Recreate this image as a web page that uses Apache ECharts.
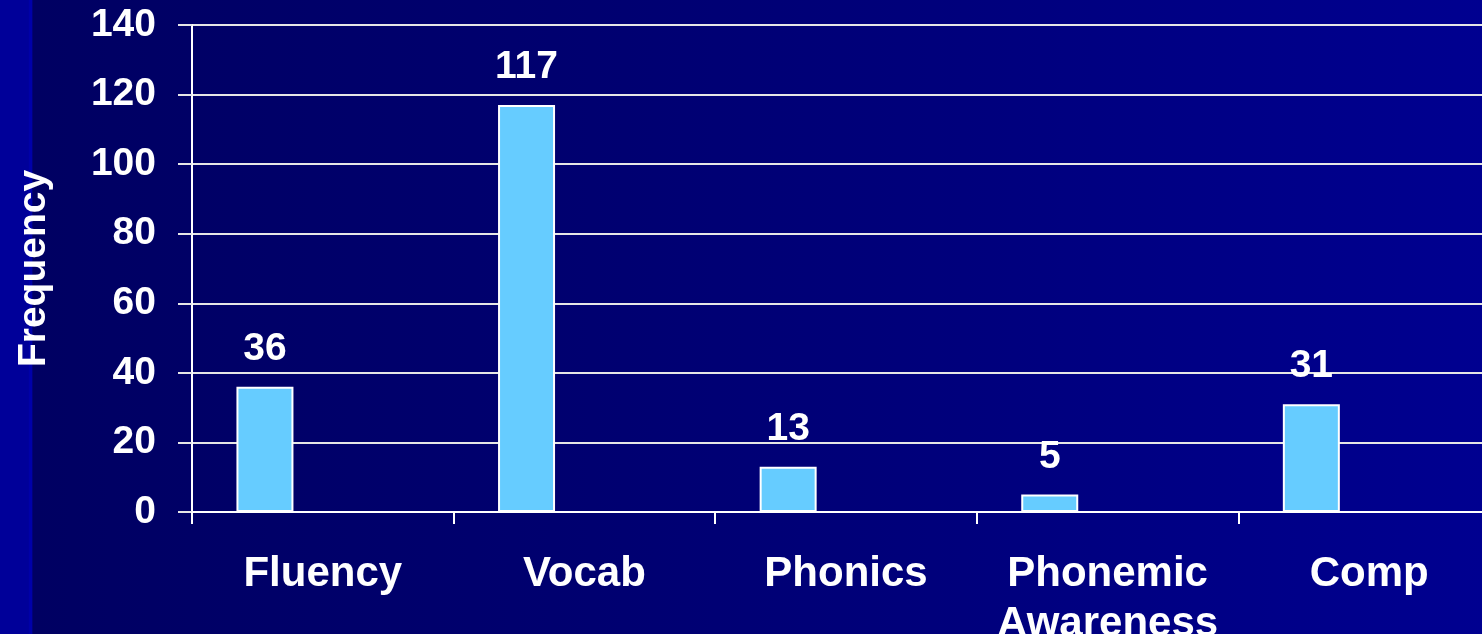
<!DOCTYPE html>
<html>
<head>
<meta charset="utf-8">
<script src="https://cdn.jsdelivr.net/npm/echarts@6/dist/echarts.min.js"></script>
<style>
html,body{margin:0;padding:0;background:#000066;}
#chart{width:1482px;height:634px;}
</style>
</head>
<body>
<div id="chart"></div>
<script>
const categories = ['Fluency', 'Vocab', 'Phonics', 'Phonemic\nAwareness', 'Comp'];
const frequencyValues = [36, 117, 13, 5, 31];
const emptyValues = [null, null, null, null, null];
const yTicks = { min: 0, max: 140, interval: 20 };
const yAxisTitle = 'Frequency';

const FONT = '"Liberation Sans", Arial, sans-serif';
const chart = echarts.init(document.getElementById('chart'), null, { renderer: 'canvas' });

chart.setOption({
  backgroundColor: {
    type: 'linear', x: 0, y: 0, x2: 1, y2: 0,
    colorStops: [
      { offset: 0, color: '#000099' },
      { offset: 0.0192, color: '#000099' },
      { offset: 0.0194, color: '#0000a8' },
      { offset: 0.0218, color: '#0000a8' },
      { offset: 0.0220, color: '#000062' },
      { offset: 0.4, color: '#000070' },
      { offset: 0.65, color: '#00007c' },
      { offset: 1, color: '#000090' }
    ]
  },
  animation: false,
  grid: { left: 192, top: 25, width: 1308, height: 487, containLabel: false, outerBoundsMode: 'none' },
  xAxis: {
    type: 'category',
    data: categories,
    axisLine: { show: true, lineStyle: { color: '#ffffff', width: 2 } },
    axisTick: { show: true, length: 12, alignWithLabel: false, lineStyle: { color: '#ffffff', width: 2 } },
    axisLabel: {
      color: '#ffffff', fontFamily: FONT, fontWeight: 'bold', fontSize: 42,
      lineHeight: 50, margin: 37, interval: 0
    },
    splitLine: { show: false }
  },
  yAxis: {
    type: 'value',
    min: yTicks.min, max: yTicks.max, interval: yTicks.interval,
    name: yAxisTitle,
    nameLocation: 'middle',
    nameRotate: 90,
    nameGap: 138,
    nameTextStyle: { color: '#ffffff', fontFamily: FONT, fontWeight: 'bold', fontSize: 39 },
    axisLine: { show: true, lineStyle: { color: '#ffffff', width: 2 } },
    axisTick: { show: true, length: 14, lineStyle: { color: '#e6e6e6', width: 2 } },
    axisLabel: { color: '#ffffff', fontFamily: FONT, fontWeight: 'bold', fontSize: 39, margin: 36 },
    splitLine: { show: true, lineStyle: { color: '#e6e6e6', width: 2 } }
  },
  series: [
    {
      name: 'Frequency',
      type: 'bar',
      data: frequencyValues,
      barWidth: 57,
      barGap: '103%',
      itemStyle: { color: '#66ccff', borderColor: '#ffffff', borderWidth: 2 },
      label: {
        show: true, position: 'top', distance: 18,
        color: '#ffffff', fontFamily: FONT, fontWeight: 'bold', fontSize: 39
      }
    },
    {
      name: 'empty',
      type: 'bar',
      data: emptyValues,
      barWidth: 57,
      barGap: '103%'
    }
  ]
});
</script>
</body>
</html>
